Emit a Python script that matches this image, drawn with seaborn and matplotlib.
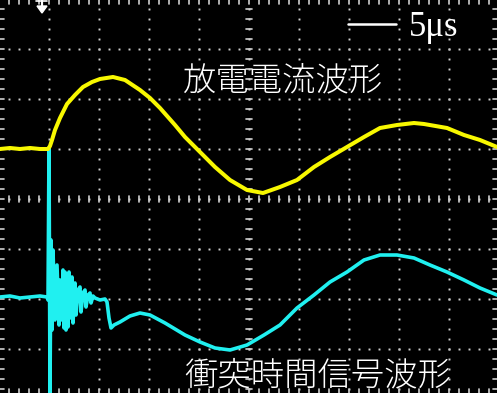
import numpy as np
import pandas as pd
import matplotlib
matplotlib.use("Agg")
import matplotlib.pyplot as plt
import seaborn as sns
from matplotlib.patches import Polygon

# ---- data (screen units: x = time position, y = vertical position, top = 0) ----
yellow_x = [0, 10, 20, 30, 40, 48, 50, 52, 55, 60, 67, 75, 83, 92, 100, 113, 125,
            140, 150, 160, 175, 185, 200, 215, 230, 247, 263, 280, 297, 314, 330,
            347, 364, 380, 397, 414, 424, 447, 464, 480, 497]
yellow_y = [149, 148, 149, 148, 149, 149, 146, 140, 130, 118, 104, 95, 87, 82, 79, 77, 80,
            90, 98, 108, 125, 137, 152, 167, 180, 190, 193, 187, 180, 167, 157,
            147, 137, 128, 125, 123, 124, 128, 135, 140, 147]

cyan_x = [0, 10, 20, 30, 40, 47, 48, 49, 50, 51, 52, 53, 55, 57, 59, 60, 62, 63, 64, 65,
          66, 67, 68, 69, 70, 72, 73, 75, 76, 78, 80, 81, 83, 85, 86, 88, 90, 91, 93,
          95, 100, 105, 107, 109, 111, 114, 120, 130, 140, 150, 165, 185, 200, 215,
          230, 247, 264, 280, 297, 314, 330, 347, 364, 380, 397, 414, 430, 447, 464,
          480, 497]
cyan_y = [297, 296, 298, 297, 296, 297, 300, 148, 393, 240, 330, 250, 320, 265, 325, 280,
          320, 270, 328, 272, 330, 275, 327, 272, 318, 277, 323, 283, 315, 290, 287,
          312, 293, 290, 307, 295, 293, 303, 296, 298, 300, 299, 302, 318, 328, 325,
          322, 316, 313, 315, 323, 335, 342, 348, 350, 345, 335, 325, 308, 295, 282,
          272, 260, 255, 255, 258, 265, 272, 280, 288, 295]

label_current = "放電電流波形"
label_signal = "衝突時間信号波形"
scale_label = "5μs"

W, H = 497, 393
sns.set_theme(style="dark")
plt.rcParams["font.family"] = ["Noto Sans CJK JP", "DejaVu Sans"]

fig = plt.figure(figsize=(W / 100, H / 100), dpi=100, facecolor="black")
ax = fig.add_axes([0, 0, 1, 1])
ax.set_facecolor("black")

# ---- graticule ----
gcol = "#cfcfcf"
div = [49, 99, 149, 199, 249, 299, 349, 399, 449]
hdiv = [49, 99, 149, 199, 249, 299, 349]
dots_x = np.arange(9, W, 10)
dots_y = np.arange(9, H, 10)
for gx in div:
    ax.plot(np.full(len(dots_y), gx), dots_y, ls="none", marker="s",
            ms=1.4, color=gcol, mew=0)
for gy in hdiv:
    ax.plot(dots_x, np.full(len(dots_x), gy), ls="none", marker="s",
            ms=1.4, color=gcol, mew=0)
# center cross minor ticks
for ty in dots_y:
    ax.plot([246, 252], [ty, ty], color=gcol, lw=1.2)
for tx in dots_x:
    ax.plot([tx, tx], [196, 202], color=gcol, lw=1.2)
# edge ticks
for ty in dots_y:
    ax.plot([0, 4], [ty, ty], color=gcol, lw=1.2)
    ax.plot([W - 4, W], [ty, ty], color=gcol, lw=1.2)
for tx in dots_x:
    ax.plot([tx, tx], [0, 4], color=gcol, lw=1.2)
    ax.plot([tx, tx], [H - 4, H], color=gcol, lw=1.2)

# ---- traces ----
dfy = pd.DataFrame({"t": yellow_x, "v": yellow_y})
dfc = pd.DataFrame({"t": cyan_x, "v": cyan_y})
sns.lineplot(data=dfc, x="t", y="v", ax=ax, color="#20f0f0", lw=2.6,
             sort=False, estimator=None)
sns.lineplot(data=dfy, x="t", y="v", ax=ax, color="#f8f800", lw=2.9,
             sort=False, estimator=None)
ax.set_xlim(0, W)
ax.set_ylim(H, 0)
ax.axis("off")

# ---- trigger marker ----
ax.plot([36, 47], [1, 1], color="white", lw=1.2)
ax.plot([42, 42], [0, 7], color="white", lw=1.6)
ax.add_patch(Polygon([[37, 6], [47, 6], [42, 13]], closed=True, color="white"))

# ---- scale bar ----
ax.plot([348, 396], [24, 24], color="white", lw=1.8)
ax.text(409, 28, scale_label, color="white", fontsize=25,
        family=["Liberation Serif", "DejaVu Serif"], ha="left", va="center")

# ---- labels ----
ax.text(283, 81, label_current, color="white", fontsize=24, ha="center",
        va="center", fontweight="light")
ax.text(318, 376, label_signal, color="white", fontsize=24, ha="center",
        va="center", fontweight="light")

fig.savefig("out.png", dpi=100, facecolor="black")
